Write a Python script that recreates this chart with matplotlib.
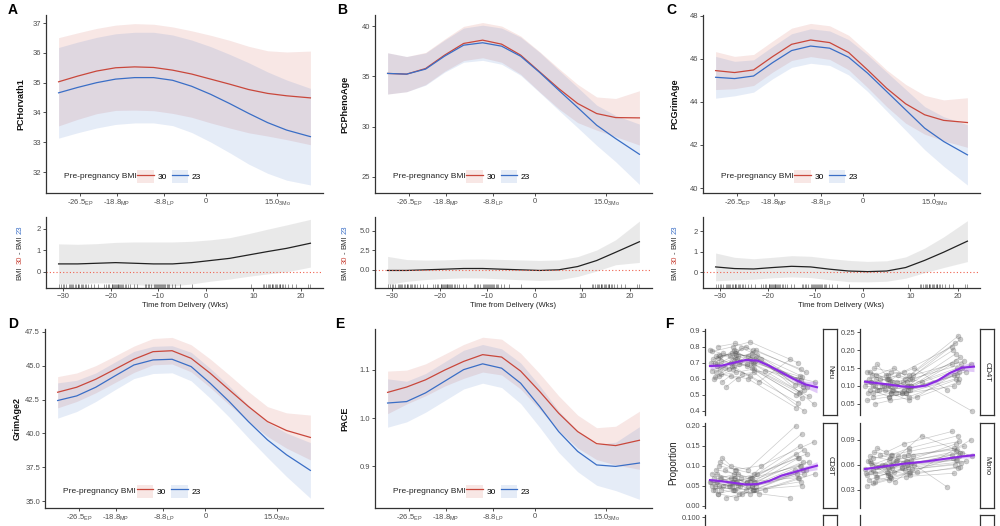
import numpy as np
import matplotlib.pyplot as plt
from matplotlib.patches import Patch
from matplotlib.lines import Line2D

plt.rcParams['font.family'] = ['Liberation Sans', 'DejaVu Sans']
plt.rcParams['mathtext.fontset'] = 'custom'
plt.rcParams['mathtext.rm'] = 'Liberation Sans'
plt.rcParams['mathtext.default'] = 'regular'

RED = '#C9473B'
BLUE = '#3A6EC6'
PURPLE = '#8B2BE2'

# weeks from delivery where the fitted curves were read
x_grid = [-31, -27, -23, -19, -15, -11, -7, -3, 1, 5, 9, 13, 17, 22]

# A: PCHorvath1
horvath_30 = [35.03, 35.22, 35.39, 35.50, 35.53, 35.51, 35.42, 35.29, 35.12, 34.95, 34.77, 34.64, 34.56, 34.49]
horvath_30_ci = [1.48, 1.45, 1.43, 1.43, 1.45, 1.45, 1.45, 1.45, 1.47, 1.47, 1.45, 1.43, 1.47, 1.57]
horvath_23 = [34.66, 34.84, 35.00, 35.12, 35.17, 35.17, 35.08, 34.88, 34.61, 34.30, 33.97, 33.66, 33.41, 33.19]
horvath_23_ci = [1.52, 1.52, 1.52, 1.52, 1.52, 1.52, 1.52, 1.55, 1.60, 1.65, 1.70, 1.70, 1.68, 1.62]
horvath_diff = [0.36, 0.36, 0.39, 0.42, 0.39, 0.36, 0.36, 0.42, 0.52, 0.62, 0.78, 0.94, 1.09, 1.33]
horvath_diff_ci = [0.94, 0.92, 0.92, 0.95, 1.00, 1.03, 1.03, 1.00, 0.97, 0.97, 1.00, 1.05, 1.10, 1.12]

# B: PCPhenoAge
pheno_30 = [35.29, 35.22, 35.78, 37.11, 38.27, 38.60, 38.20, 37.11, 35.45, 33.79, 32.30, 31.30, 30.90, 30.87]
pheno_30_ci = [2.05, 1.75, 1.60, 1.60, 1.70, 1.75, 1.80, 1.90, 2.00, 2.00, 1.90, 1.65, 1.90, 2.70]
pheno_23 = [35.29, 35.22, 35.72, 37.01, 38.10, 38.34, 38.00, 37.00, 35.39, 33.63, 31.90, 30.14, 28.81, 27.25]
pheno_23_ci = [2.05, 1.75, 1.60, 1.60, 1.70, 1.75, 1.80, 1.90, 2.00, 2.00, 2.00, 2.00, 2.30, 3.00]
pheno_diff = [-0.08, -0.08, 0.00, 0.08, 0.17, 0.17, 0.08, 0.00, -0.08, 0.00, 0.42, 1.19, 2.25, 3.60]
pheno_diff_ci = [1.80, 1.40, 1.25, 1.20, 1.20, 1.22, 1.25, 1.27, 1.28, 1.27, 1.27, 1.35, 1.60, 2.65]

# C: PCGrimAge
grim_30 = [45.45, 45.36, 45.48, 46.10, 46.67, 46.87, 46.75, 46.29, 45.48, 44.63, 43.91, 43.40, 43.14, 43.04]
grim_30_ci = [0.88, 0.75, 0.72, 0.72, 0.75, 0.77, 0.78, 0.80, 0.82, 0.85, 0.90, 0.90, 0.95, 1.15]
grim_23 = [45.14, 45.08, 45.20, 45.82, 46.38, 46.59, 46.49, 46.07, 45.33, 44.48, 43.63, 42.78, 42.16, 41.54]
grim_23_ci = [0.97, 0.80, 0.75, 0.75, 0.78, 0.80, 0.80, 0.82, 0.85, 0.90, 0.95, 1.00, 1.15, 1.40]
grim_diff = [0.26, 0.18, 0.16, 0.23, 0.29, 0.26, 0.15, 0.06, 0.03, 0.06, 0.23, 0.58, 0.98, 1.52]
grim_diff_ci = [0.68, 0.55, 0.50, 0.50, 0.52, 0.52, 0.52, 0.52, 0.50, 0.50, 0.52, 0.60, 0.75, 1.00]

# D: GrimAge2
grim2_30 = [43.04, 43.41, 44.00, 44.73, 45.47, 46.03, 46.10, 45.54, 44.44, 43.21, 41.99, 40.88, 40.22, 39.71]
grim2_30_ci = [1.15, 1.05, 1.00, 0.98, 0.97, 0.97, 0.98, 1.00, 1.05, 1.10, 1.10, 1.10, 1.30, 1.65]
grim2_23 = [42.43, 42.77, 43.41, 44.24, 45.05, 45.42, 45.47, 44.93, 43.70, 42.35, 40.88, 39.53, 38.43, 37.28]
grim2_23_ci = [1.30, 1.15, 1.05, 1.02, 1.00, 1.00, 1.00, 1.05, 1.10, 1.15, 1.20, 1.30, 1.60, 2.05]

# E: PACE
pace_30 = [1.053, 1.064, 1.079, 1.099, 1.117, 1.131, 1.126, 1.097, 1.055, 1.010, 0.972, 0.947, 0.943, 0.954]
pace_30_ci = [0.044, 0.035, 0.033, 0.033, 0.035, 0.036, 0.037, 0.037, 0.037, 0.036, 0.034, 0.033, 0.040, 0.060]
pace_23 = [1.031, 1.034, 1.052, 1.076, 1.100, 1.112, 1.103, 1.072, 1.024, 0.972, 0.931, 0.903, 0.900, 0.907]
pace_23_ci = [0.050, 0.042, 0.040, 0.040, 0.040, 0.040, 0.040, 0.042, 0.043, 0.043, 0.042, 0.042, 0.050, 0.075]

# visit times per subject (EP, MP, LP, 3Mo)
t_ep = [-30.9, -30.1, -29.4, -28.8, -28.3, -27.9, -27.5, -27.0, -26.6, -26.2, -25.8, -25.3,
        -24.9, -29.9, -28.1, -27.3, -26.9, -25.5, -24.2, -23.5, -30.4, -28.6, -26.0, -22.8]
t_mp = [-21.0, -20.3, -19.8, -19.5, -19.1, -18.8, -18.5, -18.2, -17.9, -17.5, -17.0, -16.3,
        -20.6, -19.3, -18.9, -18.0, -17.7, -16.8, -15.9, -15.2, -21.5, -19.7, -18.4, -14.6]
t_lp = [-12.9, -12.2, -11.6, -11.0, -10.6, -10.2, -9.8, -9.4, -9.0, -8.6, -8.2, -7.7,
        -11.9, -10.8, -10.0, -9.6, -9.2, -8.8, -8.0, -7.2, -12.5, -6.5, -5.4, -3.0]
t_pp = [12.0, 12.6, 13.1, 13.5, 13.9, 14.2, 14.6, 15.0, 15.3, 15.7, 16.1, 16.6,
        12.3, 13.3, 14.0, 14.8, 15.5, 16.3, 17.2, 18.1, 19.0, 9.4, 21.5, 22.0]

# F: cell proportions per subject at the four visits
neu = [[0.78, 0.74, 0.80, 0.56], [0.65, 0.70, 0.68, 0.50], [0.72, 0.76, 0.74, 0.60], [0.60, 0.66, 0.62, 0.45],
       [0.70, 0.78, 0.72, 0.58], [0.74, 0.68, 0.70, 0.52], [0.68, 0.73, 0.76, 0.62], [0.80, 0.82, 0.78, 0.66],
       [0.62, 0.64, 0.66, 0.48], [0.75, 0.72, 0.69, 0.55], [0.66, 0.74, 0.71, 0.57], [0.71, 0.69, 0.73, 0.53],
       [0.58, 0.62, 0.60, 0.42], [0.77, 0.80, 0.83, 0.70], [0.64, 0.71, 0.67, 0.51], [0.69, 0.75, 0.74, 0.59],
       [0.73, 0.77, 0.70, 0.61], [0.63, 0.60, 0.64, 0.40], [0.76, 0.71, 0.78, 0.64], [0.67, 0.79, 0.75, 0.55],
       [0.70, 0.66, 0.69, 0.49], [0.61, 0.68, 0.58, 0.72], [0.74, 0.76, 0.72, 0.44], [0.55, 0.63, 0.65, 0.58]]
cd4t = [[0.10, 0.09, 0.08, 0.16], [0.14, 0.12, 0.11, 0.20], [0.08, 0.10, 0.09, 0.13], [0.12, 0.13, 0.12, 0.22],
        [0.09, 0.07, 0.08, 0.12], [0.11, 0.10, 0.11, 0.17], [0.13, 0.11, 0.10, 0.15], [0.07, 0.08, 0.06, 0.11],
        [0.15, 0.14, 0.13, 0.24], [0.10, 0.11, 0.09, 0.14], [0.12, 0.09, 0.10, 0.18], [0.09, 0.10, 0.12, 0.16],
        [0.16, 0.13, 0.14, 0.21], [0.06, 0.07, 0.08, 0.10], [0.11, 0.12, 0.10, 0.19], [0.10, 0.08, 0.09, 0.13],
        [0.08, 0.09, 0.07, 0.12], [0.13, 0.15, 0.12, 0.23], [0.09, 0.08, 0.10, 0.15], [0.12, 0.11, 0.13, 0.17],
        [0.11, 0.10, 0.08, 0.14], [0.14, 0.12, 0.15, 0.09], [0.05, 0.06, 0.07, 0.16], [0.10, 0.13, 0.11, 0.03]]
cd8t = [[0.06, 0.05, 0.04, 0.09], [0.08, 0.07, 0.06, 0.13], [0.04, 0.05, 0.05, 0.08], [0.07, 0.06, 0.07, 0.12],
        [0.05, 0.04, 0.03, 0.07], [0.09, 0.08, 0.07, 0.15], [0.06, 0.07, 0.05, 0.10], [0.03, 0.04, 0.04, 0.06],
        [0.10, 0.09, 0.08, 0.18], [0.05, 0.06, 0.04, 0.09], [0.07, 0.05, 0.06, 0.11], [0.04, 0.03, 0.05, 0.08],
        [0.12, 0.10, 0.09, 0.20], [0.05, 0.04, 0.06, 0.07], [0.06, 0.07, 0.05, 0.12], [0.08, 0.06, 0.07, 0.10],
        [0.03, 0.02, 0.04, 0.05], [0.07, 0.08, 0.06, 0.14], [0.05, 0.05, 0.04, 0.09], [0.09, 0.07, 0.08, 0.13],
        [0.06, 0.05, 0.06, 0.11], [0.04, 0.06, 0.03, 0.02], [0.11, 0.09, 0.10, 0.16], [0.02, 0.03, 0.04, 0.08]]
mono = [[0.055, 0.060, 0.058, 0.072], [0.048, 0.052, 0.062, 0.068], [0.065, 0.058, 0.070, 0.080],
        [0.042, 0.050, 0.054, 0.060], [0.070, 0.066, 0.064, 0.085], [0.052, 0.047, 0.060, 0.066],
        [0.060, 0.068, 0.072, 0.078], [0.038, 0.044, 0.050, 0.056], [0.075, 0.072, 0.080, 0.095],
        [0.050, 0.056, 0.052, 0.070], [0.058, 0.062, 0.066, 0.074], [0.045, 0.040, 0.055, 0.062],
        [0.080, 0.075, 0.085, 0.100], [0.035, 0.042, 0.046, 0.050], [0.062, 0.055, 0.064, 0.076],
        [0.054, 0.060, 0.058, 0.066], [0.068, 0.072, 0.076, 0.088], [0.046, 0.052, 0.048, 0.058],
        [0.057, 0.064, 0.062, 0.074], [0.072, 0.066, 0.070, 0.082], [0.050, 0.058, 0.056, 0.064],
        [0.064, 0.048, 0.060, 0.034], [0.040, 0.046, 0.052, 0.090], [0.060, 0.070, 0.095, 0.070]]

# F: smooth fits
f_grid = [-31, -25, -19, -13, -7, -1, 5, 11, 17, 23]
neu_fit = [0.679, 0.682, 0.700, 0.717, 0.713, 0.680, 0.640, 0.600, 0.565, 0.547]
neu_fit_ci = [0.020, 0.012, 0.010, 0.010, 0.010, 0.010, 0.012, 0.015, 0.020, 0.035]
cd4t_fit = [0.112, 0.108, 0.104, 0.099, 0.097, 0.101, 0.115, 0.136, 0.151, 0.154]
cd4t_fit_ci = [0.006, 0.004, 0.004, 0.004, 0.004, 0.004, 0.005, 0.006, 0.008, 0.014]
cd8t_fit = [0.064, 0.061, 0.057, 0.053, 0.054, 0.062, 0.075, 0.083, 0.092, 0.100]
cd8t_fit_ci = [0.005, 0.004, 0.003, 0.003, 0.003, 0.004, 0.005, 0.006, 0.007, 0.010]
mono_fit = [0.055, 0.057, 0.059, 0.061, 0.0625, 0.064, 0.066, 0.068, 0.070, 0.0715]
mono_fit_ci = [0.002, 0.0015, 0.0015, 0.0015, 0.0015, 0.0015, 0.0015, 0.0015, 0.002, 0.003]

visit_ticks = [-26.5, -18.8, -8.8, 0, 15.0]
visit_labels = ['-26.5$_{EP}$', '-18.8$_{MP}$', '-8.8$_{LP}$', '0', '15.0$_{3Mo}$']

fig = plt.figure(figsize=(10, 5.26), dpi=100)
H = 526.0


def add_ax(x0, y0, x1, y1):
    return fig.add_axes([x0 / 1000, 1 - y1 / H, (x1 - x0) / 1000, (y1 - y0) / H])


def style(ax, bottom=True):
    ax.spines['top'].set_visible(False)
    ax.spines['right'].set_visible(False)
    ax.spines['left'].set_color('#333333')
    ax.spines['left'].set_linewidth(0.9)
    if bottom:
        ax.spines['bottom'].set_color('#333333')
        ax.spines['bottom'].set_linewidth(0.9)
    else:
        ax.spines['bottom'].set_visible(False)
        ax.set_xticks([])
    ax.tick_params(labelsize=5.5, length=2, width=0.6, color='#333333',
                   labelcolor='#4D4D4D', pad=1.5)


def main_panel(ax, m30, c30, m23, c23, yticks, ylabels, ylim):
    x = np.array(x_grid)
    m30, c30, m23, c23 = map(np.array, (m30, c30, m23, c23))
    ax.fill_between(x, m30 - c30, m30 + c30, color=RED, alpha=0.13, lw=0)
    ax.fill_between(x, m23 - c23, m23 + c23, color=BLUE, alpha=0.13, lw=0)
    ax.plot(x, m30, color=RED, lw=0.9)
    ax.plot(x, m23, color=BLUE, lw=0.9)
    ax.set_xlim(-33.65, 24.65)
    ax.set_ylim(*ylim)
    ax.set_xticks(visit_ticks)
    ax.set_xticklabels(visit_labels)
    ax.set_yticks(yticks)
    ax.set_yticklabels(ylabels)
    style(ax)
    ax.text(0.065, 0.093, 'Pre-pregnancy BMI', transform=ax.transAxes,
            fontsize=6, va='center', color='#222222')
    handles = [(Patch(facecolor=RED, alpha=0.13, lw=0), Line2D([], [], color=RED, lw=0.9)),
               (Patch(facecolor=BLUE, alpha=0.13, lw=0), Line2D([], [], color=BLUE, lw=0.9))]
    ax.legend(handles, ['30', '23'], ncol=2, loc='center left', bbox_to_anchor=(0.33, 0.093),
              frameon=False, fontsize=6, handlelength=2.0, handleheight=2.0,
              columnspacing=0.6, handletextpad=0.4, borderpad=0, borderaxespad=0)


all_times = t_ep + t_mp + t_lp + t_pp


def diff_panel(ax, d, c, yticks, ylabels, ylim):
    x = np.array(x_grid)
    d, c = np.array(d), np.array(c)
    ax.fill_between(x, d - c, d + c, color='#BDBDBD', alpha=0.32, lw=0)
    ax.plot(x, d, color='#222222', lw=0.9)
    ax.axhline(0, color='#F0604D', ls=(0, (1, 2)), lw=0.8)
    ax.vlines(all_times, 0, 0.05, transform=ax.get_xaxis_transform(),
              color='black', lw=0.4, alpha=0.7)
    ax.set_xlim(-33.65, 24.65)
    ax.set_ylim(*ylim)
    ax.set_xticks([-30, -20, -10, 0, 10, 20])
    ax.set_yticks(yticks)
    ax.set_yticklabels(ylabels)
    style(ax)
    ax.set_xlabel('Time from Delivery (Wks)', fontsize=5.5, labelpad=1.5, color='#222222')


# top row
axA = add_ax(46, 15, 323, 193)
main_panel(axA, horvath_30, horvath_30_ci, horvath_23, horvath_23_ci,
           [32, 33, 34, 35, 36, 37], ['32', '33', '34', '35', '36', '37'], (31.3, 37.27))
axB = add_ax(375, 15, 652, 193)
main_panel(axB, pheno_30, pheno_30_ci, pheno_23, pheno_23_ci,
           [25, 30, 35, 40], ['25', '30', '35', '40'], (23.4, 41.1))
axC = add_ax(703, 15, 980, 193)
main_panel(axC, grim_30, grim_30_ci, grim_23, grim_23_ci,
           [40, 42, 44, 46, 48], ['40', '42', '44', '46', '48'], (39.77, 48.03))

dA = add_ax(46, 217, 323, 288)
diff_panel(dA, horvath_diff, horvath_diff_ci, [0, 1, 2], ['0', '1', '2'], (-0.77, 2.56))
dB = add_ax(375, 217, 652, 288)
diff_panel(dB, pheno_diff, pheno_diff_ci, [0, 2.5, 5], ['0.0', '2.5', '5.0'], (-2.33, 6.77))
dC = add_ax(703, 217, 980, 288)
diff_panel(dC, grim_diff, grim_diff_ci, [0, 1, 2], ['0', '1', '2'], (-0.77, 2.7))

# bottom row
axD = add_ax(45, 329, 323, 508)
main_panel(axD, grim2_30, grim2_30_ci, grim2_23, grim2_23_ci,
           [35, 37.5, 40, 42.5, 45, 47.5], ['35.0', '37.5', '40.0', '42.5', '45.0', '47.5'], (34.51, 47.7))
axE = add_ax(375, 329, 652, 508)
main_panel(axE, pace_30, pace_30_ci, pace_23, pace_23_ci,
           [0.9, 1.0, 1.1], ['0.9', '1.0', '1.1'], (0.814, 1.184))


# F facets
def facet(x0, y0, x1, y1, vals, fit, fit_ci, ylim, yticks, ylabels, strip):
    ax = add_ax(x0, y0, x1, y1)
    for i in range(len(vals)):
        ax.plot([t_ep[i], t_mp[i], t_lp[i], t_pp[i]], vals[i], color='#555555', alpha=0.3, lw=0.5)
    xs = [t for i in range(len(vals)) for t in (t_ep[i], t_mp[i], t_lp[i], t_pp[i])]
    ys = [v for row in vals for v in row]
    ax.scatter(xs, ys, s=13, color='#6E6E6E', alpha=0.35, lw=0.3, edgecolors='#555555')
    g, f, c = np.array(f_grid), np.array(fit), np.array(fit_ci)
    ax.fill_between(g, f - c, f + c, color=PURPLE, alpha=0.25, lw=0)
    ax.plot(g, f, color=PURPLE, lw=1.5)
    ax.set_xlim(-33.5, 24.5)
    ax.set_ylim(*ylim)
    ax.set_yticks(yticks)
    ax.set_yticklabels(ylabels)
    style(ax, bottom=False)
    sx = add_ax(x1 + 3, y0, x1 + 17, y1)
    sx.set_xticks([])
    sx.set_yticks([])
    for s in sx.spines.values():
        s.set_color('#333333')
        s.set_linewidth(0.9)
    sx.text(0.5, 0.5, strip, rotation=-90, ha='center', va='center', fontsize=5.5,
            color='#222222', transform=sx.transAxes)
    return ax


facet(705, 329, 820, 415, neu, neu_fit, neu_fit_ci, (0.374, 0.91),
      [0.4, 0.5, 0.6, 0.7, 0.8, 0.9], ['0.4', '0.5', '0.6', '0.7', '0.8', '0.9'], 'Neu')
facet(860, 329, 977, 415, cd4t, cd4t_fit, cd4t_fit_ci, (0.019, 0.259),
      [0.05, 0.10, 0.15, 0.20, 0.25], ['0.05', '0.10', '0.15', '0.20', '0.25'], 'CD4T')
facet(705, 423, 820, 508, cd8t, cd8t_fit, cd8t_fit_ci, (-0.006, 0.207),
      [0.0, 0.05, 0.10, 0.15, 0.20], ['0.00', '0.05', '0.10', '0.15', '0.20'], 'CD8T')
facet(860, 423, 977, 508, mono, mono_fit, mono_fit_ci, (0.0084, 0.110),
      [0.03, 0.06, 0.09], ['0.03', '0.06', '0.09'], 'Mono')

# third facet row, cut by the figure edge
for x0, x1 in [(705, 820), (860, 977)]:
    ax3 = add_ax(x0, 515, x1, 600)
    ax3.set_xlim(-33.5, 24.5)
    ax3.set_ylim(0.0, 0.103)
    if x0 == 705:
        ax3.set_yticks([0.1])
        ax3.set_yticklabels(['0.100'])
    else:
        ax3.set_yticks([])
    style(ax3, bottom=False)
    sx = add_ax(x1 + 3, 515, x1 + 17, 600)
    sx.set_xticks([])
    sx.set_yticks([])
    for s in sx.spines.values():
        s.set_color('#333333')
        s.set_linewidth(0.9)

fig.text(673 / 1000, 1 - 463 / H, 'Proportion', rotation=90, ha='center', va='center',
         fontsize=7, color='#222222')

# y labels
for xp, ax, lab in [(21, axA, 'PCHorvath1'), (345, axB, 'PCPhenoAge'), (675, axC, 'PCGrimAge'),
                    (17, axD, 'GrimAge2'), (345, axE, 'PACE')]:
    pos = ax.get_position()
    fig.text(xp / 1000, (pos.y0 + pos.y1) / 2, lab, rotation=90, ha='center', va='center',
             fontsize=6.5, fontweight='bold', color='#111111')

renderer = fig.canvas.get_renderer()


def color_label(xp, ax):
    pos = ax.get_position()
    yc = (pos.y0 + pos.y1) / 2 * H
    parts = [('BMI', '#333333'), ('30', RED), ('-', '#333333'), ('BMI', '#333333'), ('23', BLUE)]
    gap = 2.0
    texts = []
    sizes = []
    for s, c in parts:
        t = fig.text(0, 0, s, rotation=90, ha='center', va='bottom', fontsize=5.5, color=c)
        sizes.append(t.get_window_extent(renderer).height)
        texts.append(t)
    total = sum(sizes) + gap * (len(parts) - 1)
    y = yc - total / 2
    for t, sz in zip(texts, sizes):
        t.set_position((xp / 1000, y / H))
        y += sz + gap


color_label(20, dA)
color_label(345, dB)
color_label(675, dC)

# panel letters
for xp, yp, l in [(8, 10, 'A'), (337, 10, 'B'), (666, 10, 'C'),
                  (8, 324, 'D'), (335, 324, 'E'), (665, 324, 'F')]:
    fig.text(xp / 1000, 1 - yp / H, l, fontsize=10, fontweight='bold', va='center', ha='left')

fig.savefig('out.png', dpi=100)
